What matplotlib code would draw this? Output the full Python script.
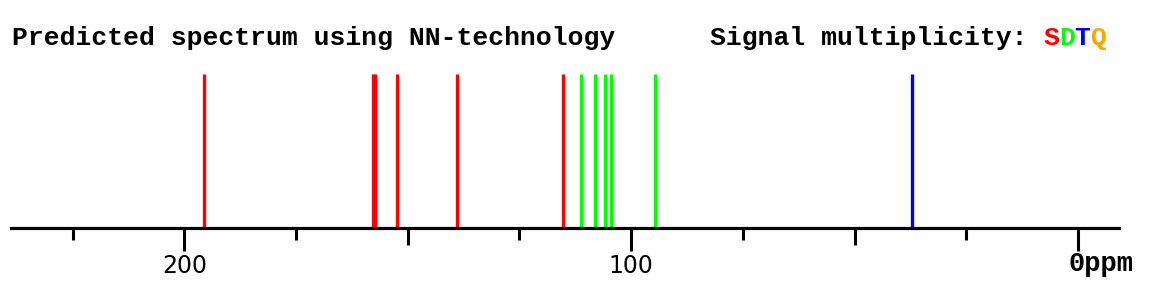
import matplotlib

matplotlib.use("Agg")
import matplotlib.pyplot as plt

# predicted shifts (ppm) and multiplicity of each signal
shifts = [195.7, 157.7, 157.3, 152.5, 139.0, 115.3, 111.3, 108.1, 105.9, 104.6, 94.7, 37.2]
mult = ["S", "S", "S", "S", "S", "S", "D", "D", "D", "D", "D", "T"]
intensity = [1.0] * len(shifts)

MULT_COLORS = {"S": "#ff0000", "D": "#00ff00", "T": "#0000ff", "Q": "#ffa500"}
major_ticks = [0, 100, 200]
major_labels = ["", "100", "200"]
mid_ticks = [50, 150]
minor_ticks = [25, 75, 125, 175, 225]

W, H = 1173, 290
FONT = "Liberation Mono"

fig = plt.figure(figsize=(W / 100, H / 100), dpi=100)
ax = fig.add_axes([11 / W, 62 / H, 1108 / W, (228 - 73.5) / H])
ax.set_xlim(238.8, -9.2)
ax.set_ylim(0, 1)

ax.vlines(shifts, 0, intensity, colors=[MULT_COLORS[m] for m in mult], linewidth=2.4)

for side in ["top", "left", "right"]:
    ax.spines[side].set_visible(False)
ax.spines["bottom"].set_linewidth(2.3)
ax.set_yticks([])

ax.set_xticks(major_ticks)
ax.set_xticklabels(major_labels)
ax.set_xticks(minor_ticks, minor=True)
ax.tick_params(axis="x", which="major", length=16.5, width=2.2, pad=2.5)
ax.tick_params(axis="x", which="minor", length=8.5, width=2.2)
for lbl in ax.get_xticklabels():
    lbl.set_fontfamily("DejaVu Sans")
    lbl.set_fontsize(17)

sec = ax.secondary_xaxis("bottom")
sec.set_xticks(mid_ticks)
sec.set_xticklabels([])
sec.tick_params(axis="x", length=12.5, width=2.2)
sec.spines["bottom"].set_visible(False)

# zero label with unit, courier style
fig.text(1069 / W, 1 - 271 / H, "0ppm", fontfamily=FONT, fontsize=19.5, fontweight="bold",
         va="baseline", ha="left")

fig.text(12 / W, 1 - 45 / H, "Predicted spectrum using NN-technology", fontfamily=FONT,
         fontsize=19, fontweight="bold", va="baseline", ha="left")
fig.text(710 / W, 1 - 45 / H, "Signal multiplicity:", fontfamily=FONT,
         fontsize=19, fontweight="bold", va="baseline", ha="left")
char_w = 15.85
for i, m in enumerate(["S", "D", "T", "Q"]):
    fig.text((1043 + i * char_w) / W, 1 - 45 / H, m, fontfamily=FONT, fontsize=19,
             fontweight="bold", color=MULT_COLORS[m], va="baseline", ha="left")

fig.savefig("out.png", dpi=100)
